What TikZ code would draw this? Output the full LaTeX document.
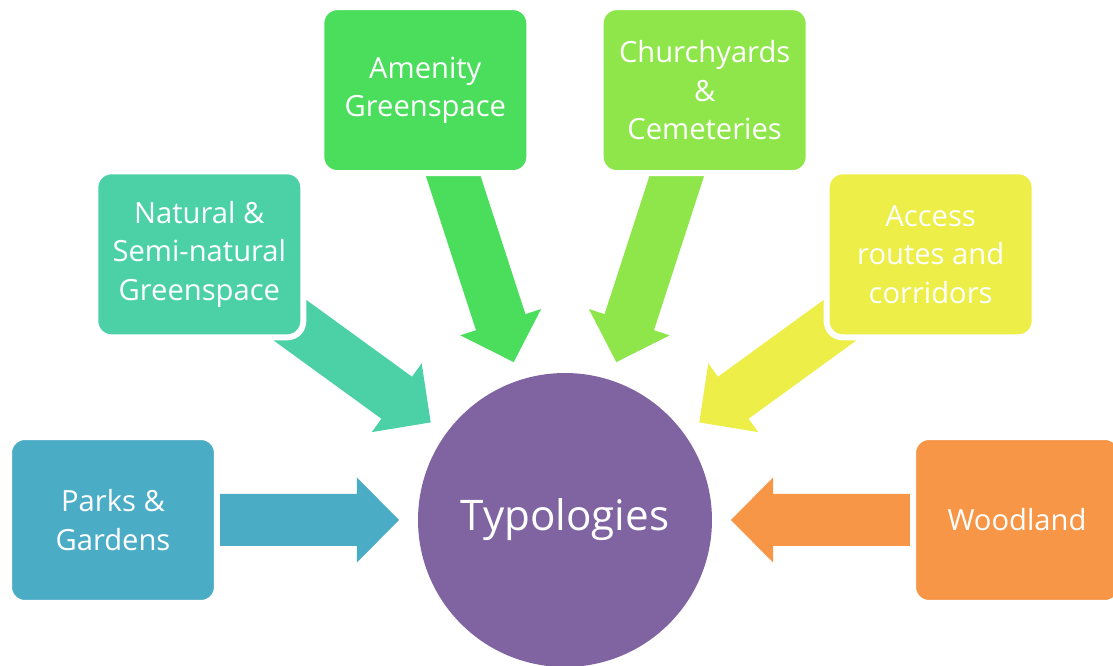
\documentclass[tikz,border=0pt]{standalone}
\usepackage{fontspec}
\setmainfont{Open Sans}
\usetikzlibrary{calc}
\definecolor{typpurple}{HTML}{8064A2}
\definecolor{parksblue}{HTML}{4BACC6}
\definecolor{naturalgreen}{HTML}{4BD1A5}
\definecolor{amenitygreen}{HTML}{4ADE5C}
\definecolor{churchgreen}{HTML}{8FE64A}
\definecolor{accessyellow}{HTML}{EDEE47}
\definecolor{woodorange}{HTML}{F79646}
\def\blockarrow[#1](#2)(#3){\fill[#1,shift={(#2)},rotate=#3] (400,26) -- (208,26) -- (208,42.5) -- (166,0) -- (208,-42.5) -- (208,-26) -- (400,-26) -- cycle;}
\tikzset{typbox/.style={rectangle, rounded corners=0.32cm, draw=white, line width=3.4pt, minimum width=4.16cm, minimum height=3.32cm, inner sep=0pt, align=center, text=white, font=\fontsize{16.6}{21.9}\selectfont}}

\begin{document}
\begin{tikzpicture}[x=0.02cm,y=0.02cm]
		%%%%% START %%%%%
		\useasboundingbox (-565,-146) rectangle (548,520);
		
		\node[circle, fill=typpurple, minimum size=5.88cm, inner sep=0pt, text=white, font=\fontsize{24}{28}\selectfont] (typ) at (0,0) {Typologies};
		
		\blockarrow[parksblue](typ.center)(180);
		\blockarrow[naturalgreen](typ.center)(144);
		\blockarrow[amenitygreen](typ.center)(108);
		\blockarrow[churchgreen](typ.center)(72);
		\blockarrow[accessyellow](typ.center)(36);
		\blockarrow[woodorange](typ.center)(0);
		
		\node[typbox, fill=parksblue] (parks) at (180:452) {Parks \&\\Gardens};
		\node[typbox, fill=naturalgreen] (natural) at (144:452) {Natural \&\\Semi-natural\\Greenspace};
		\node[typbox, fill=amenitygreen] (amenity) at (108:452) {Amenity\\Greenspace};
		\node[typbox, fill=churchgreen] (church) at (72:452) {Churchyards\\\&\\Cemeteries};
		\node[typbox, fill=accessyellow] (access) at (36:452) {Access\\routes and\\corridors};
		\node[typbox, fill=woodorange] (wood) at (0:452) {Woodland};
		%%%%% END %%%%%
\end{tikzpicture}
\end{document}
